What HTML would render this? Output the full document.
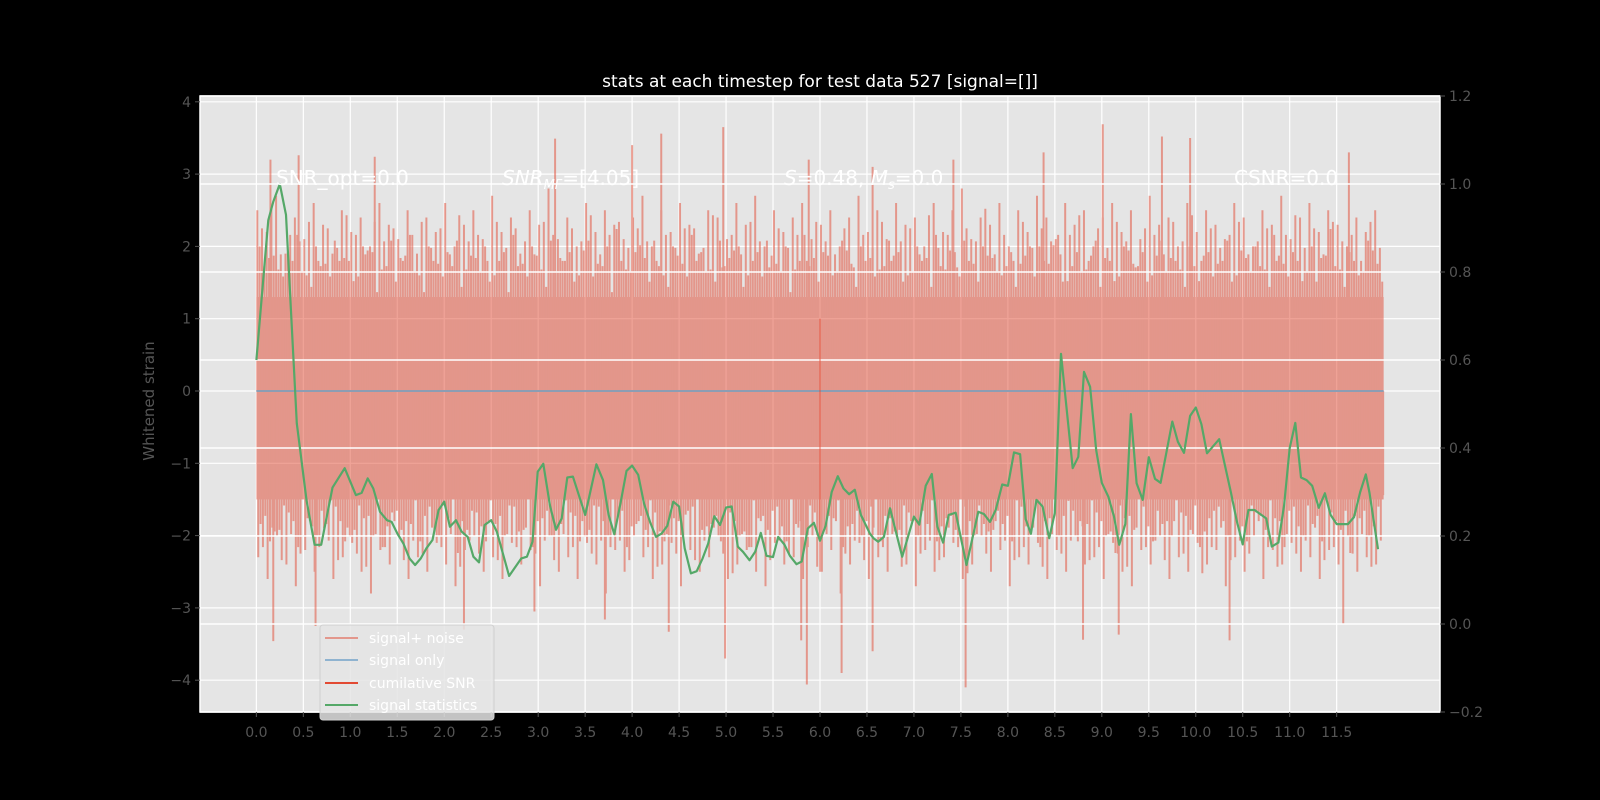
<!DOCTYPE html>
<html><head><meta charset="utf-8">
<style>
html,body{margin:0;padding:0;background:#000;}
svg{display:block;font-family:"DejaVu Sans","Liberation Sans",sans-serif;}
</style></head>
<body>
<svg id="chart" width="1600" height="800" viewBox="0 0 1600 800">
<rect x="0" y="0" width="1600" height="800" fill="#000"/>
<rect x="200" y="96" width="1240" height="616" fill="#e5e5e5"/>
<g id="gridL"></g>
<g id="noise" opacity="0.5"></g>
<g id="gridR"></g>
<g id="lines"></g>
<g id="axes"></g>
<text x="820" y="87" fill="#fff" font-size="17" text-anchor="middle">stats at each timestep for test data 527 [signal=[]]</text>
<text transform="translate(154,401) rotate(-90)" fill="#555" font-size="15" text-anchor="middle">Whitened strain</text>
<g fill="#fff" font-size="20">
<text x="276" y="185">SNR_opt=0.0</text>
<text x="502" y="185"><tspan font-style="italic">SNR</tspan><tspan font-style="italic" font-size="13" dy="4">MF</tspan><tspan dy="-4">=[4.05]</tspan></text>
<text x="784" y="185"><tspan font-style="italic">S</tspan>=0.48, <tspan font-style="italic">M</tspan><tspan font-style="italic" font-size="13" dy="4">s</tspan><tspan dy="-4">=0.0</tspan></text>
<text x="1234" y="185">CSNR=0.0</text>
</g>
<g id="legend">
<rect x="320" y="625" width="174" height="95" rx="3" fill="#e5e5e5" fill-opacity="0.85" stroke="#d0d0d0"/>
<g><line x1="325" y1="638" x2="358" y2="638" stroke="#e3978c" stroke-width="2"/><text x="369" y="643" fill="#fff" font-size="14">signal+ noise</text></g>
<g><line x1="325" y1="660" x2="358" y2="660" stroke="#8fb3d0" stroke-width="2"/><text x="369" y="665" fill="#fff" font-size="14">signal only</text></g>
<g><line x1="325" y1="683" x2="358" y2="683" stroke="#E24A33" stroke-width="2"/><text x="369" y="688" fill="#fff" font-size="14">cumilative SNR</text></g>
<g><line x1="325" y1="705" x2="358" y2="705" stroke="#55A868" stroke-width="2"/><text x="369" y="710" fill="#fff" font-size="14">signal statistics</text></g>
</g>
</svg>
<script>
const xTicks=[0,0.5,1,1.5,2,2.5,3,3.5,4,4.5,5,5.5,6,6.5,7,7.5,8,8.5,9,9.5,10,10.5,11,11.5];
const yTicksL=[-4,-3,-2,-1,0,1,2,3,4];
const yTicksR=[-0.2,0,0.2,0.4,0.6,0.8,1.0,1.2];
const statT=[0,0.127,0.18,0.25,0.315,0.43,0.535,0.62,0.69,0.81,0.94,1.06,1.12,1.185,1.245,1.316,1.39,1.44,1.5,1.565,1.63,1.69,1.75,1.81,1.875,1.94,2.0,2.06,2.125,2.185,2.25,2.31,2.37,2.43,2.5,2.56,2.69,2.82,2.88,2.94,2.995,3.055,3.125,3.19,3.25,3.31,3.37,3.5,3.62,3.69,3.75,3.81,3.88,3.94,4.0,4.065,4.126,4.19,4.254,4.315,4.374,4.438,4.5,4.56,4.626,4.687,4.75,4.81,4.875,4.935,5.0,5.06,5.125,5.18,5.25,5.31,5.37,5.43,5.5,5.555,5.62,5.68,5.75,5.805,5.87,5.935,6.0,6.06,6.125,6.19,6.25,6.31,6.37,6.435,6.53,6.57,6.62,6.68,6.745,6.875,7.0,7.057,7.125,7.19,7.25,7.31,7.37,7.445,7.56,7.685,7.745,7.81,7.87,7.94,8.0,8.065,8.13,8.19,8.245,8.305,8.37,8.44,8.5,8.565,8.69,8.75,8.81,8.875,8.94,9.0,9.07,9.13,9.185,9.25,9.31,9.37,9.435,9.5,9.566,9.626,9.75,9.81,9.875,9.94,10.0,10.06,10.12,10.25,10.31,10.375,10.435,10.5,10.56,10.625,10.75,10.81,10.88,10.94,11.0,11.06,11.12,11.18,11.24,11.31,11.375,11.435,11.5,11.62,11.685,11.75,11.81,11.85,11.94];
const statV=[0.60,0.918,0.96,1.0,0.93,0.456,0.28,0.18,0.18,0.31,0.354,0.293,0.298,0.331,0.308,0.255,0.236,0.232,0.206,0.183,0.149,0.134,0.149,0.172,0.191,0.259,0.278,0.221,0.236,0.21,0.198,0.153,0.14,0.225,0.236,0.21,0.109,0.149,0.153,0.187,0.346,0.364,0.27,0.214,0.24,0.333,0.335,0.248,0.363,0.327,0.248,0.204,0.278,0.348,0.36,0.339,0.274,0.232,0.198,0.206,0.223,0.278,0.267,0.172,0.115,0.12,0.149,0.183,0.245,0.225,0.265,0.267,0.176,0.164,0.145,0.164,0.207,0.155,0.152,0.198,0.181,0.155,0.136,0.142,0.217,0.23,0.189,0.223,0.30,0.336,0.308,0.295,0.305,0.248,0.206,0.195,0.187,0.198,0.263,0.153,0.244,0.226,0.314,0.341,0.221,0.185,0.248,0.253,0.134,0.255,0.25,0.232,0.259,0.317,0.314,0.39,0.386,0.238,0.205,0.282,0.267,0.195,0.252,0.614,0.354,0.38,0.573,0.539,0.395,0.321,0.289,0.244,0.18,0.227,0.477,0.32,0.282,0.379,0.33,0.321,0.46,0.414,0.389,0.473,0.492,0.454,0.388,0.42,0.361,0.298,0.236,0.181,0.259,0.259,0.24,0.176,0.185,0.27,0.40,0.457,0.333,0.327,0.314,0.264,0.297,0.248,0.227,0.227,0.243,0.30,0.34,0.298,0.17];
const coreHi=[1.3];
const coreLo=[-1.5];
const fringeUp=[2.5,2.2,2.7,1.9,2.4,2.1,2.6,2.3,1.9,2.5,2.2,2.4,2.0,2.6,2.3,2.1,2.5,1.9,2.4,2.2,2.6,2.0,2.3,2.5,2.1,2.7,2.2,2.4,1.9,2.5,2.3,2.8,2.1,2.4,2.0,2.6,2.2,2.5,2.3,2.1,2.4,2.7,2.0,2.5,2.2,2.6,2.3,1.9,2.5,2.4,2.1,2.6,2.3,2.7,2.0,2.5,2.2,2.4,2.6,2.1,2.3,2.5,2.0,2.4,2.7,2.2,2.5,2.1,2.6,2.3,2.4,2.0,2.6,2.2,2.5,2.8,2.1,2.4,2.3,2.6,2.0,2.5,2.2,2.7,2.4,2.1,2.6,2.3,2.5,2.0,2.4,2.6,2.2,2.5,2.1,2.7,2.3,2.4,2.0,2.6,2.2,2.5,2.3,2.1,2.6,2.4,2.0,2.5,2.3,2.7,2.1,2.4,2.6,2.2,2.5,2.3,2.0,2.4,2.2,2.5];
const fringeDn=[-2.3,-2.6,-2.0,-2.4,-2.7,-2.2,-2.5,-1.9,-2.6,-2.3,-2.1,-2.5,-2.8,-2.2,-2.4,-2.0,-2.6,-2.3,-2.5,-2.1,-2.4,-2.7,-2.2,-2.0,-2.5,-2.3,-2.6,-2.1,-2.4,-2.2,-2.7,-2.0,-2.5,-2.3,-2.6,-2.1,-2.4,-2.8,-2.2,-2.5,-2.0,-2.3,-2.6,-2.4,-2.1,-2.7,-2.2,-2.5,-2.3,-2.0,-2.6,-2.4,-2.2,-2.5,-2.7,-2.1,-2.4,-2.3,-2.6,-2.0,-2.5,-2.2,-2.8,-2.4,-2.1,-2.6,-2.3,-2.5,-2.0,-2.4,-2.7,-2.2,-2.5,-2.3,-2.1,-2.6,-2.4,-2.0,-2.5,-2.2,-2.7,-2.3,-2.4,-2.1,-2.6,-2.2,-2.5,-2.0,-2.4,-2.3,-2.6,-2.1,-2.5,-2.7,-2.2,-2.4,-2.0,-2.6,-2.3,-2.5,-2.1,-2.4,-2.2,-2.7,-2.3,-2.5,-2.0,-2.6,-2.2,-2.4,-2.1,-2.5,-2.3,-2.6,-2.2,-2.4,-2.0,-2.5,-2.3,-2.4];
const spikeT=[0.15,0.45,1.26,3.18,4.0,4.31,4.97,5.88,6.56,7.42,8.38,9.01,9.64,9.94,11.63,0.18,0.63,2.21,2.96,3.71,4.39,4.99,5.8,5.86,6.23,6.56,7.55,8.8,9.18,10.36,11.57];
const spikeV=[3.2,3.26,3.24,3.49,3.4,3.56,3.65,3.2,3.1,3.2,3.3,3.69,3.52,3.5,3.3,-3.46,-3.25,-3.3,-3.05,-3.16,-3.33,-3.7,-3.45,-4.06,-3.9,-3.6,-4.1,-3.44,-3.37,-3.45,-3.22];
const snrT=[6.0];
const snrRange=[1.0,-2.5];

const NS='http://www.w3.org/2000/svg';
const X0=200,X1=1440,Y0=96,Y1=712;
const xMin=-0.6,xMax=12.6;
function xs(t){return X0+(t-xMin)/(xMax-xMin)*(X1-X0);}
function yL(v){return 391-v*72.3;}
function yR(v){return 624-v*440;}
function mk(tag,attrs,parent){const e=document.createElementNS(NS,tag);for(const k in attrs)e.setAttribute(k,attrs[k]);parent.appendChild(e);return e;}

const gL=document.getElementById('gridL');
xTicks.forEach(t=>{const l=mk('line',{x1:xs(t),x2:xs(t),y1:Y0,y2:Y1,stroke:'#fff','stroke-width':1.2},gL);

});
yTicksL.forEach(v=>{const l=mk('line',{x1:X0,x2:X1,y1:yL(v),y2:yL(v),stroke:'#fff','stroke-width':1.2},gL);

});

const gN=document.getElementById('noise');
const c=mk('rect',{x:xs(0),y:yL(coreHi[0]),width:xs(12)-xs(0),height:yL(coreLo[0])-yL(coreHi[0]),fill:'#E24A33'},gN);


const fac=[1,0.8,0.9,0.72];
fringeUp.forEach((v,i)=>{for(let k=0;k<4;k++){const t=i*0.1+0.01+k*0.025;const u=fringeUp[(i+k*37)%fringeUp.length];const val=(k==0?v:u)*fac[k];
const l=mk('line',{x1:xs(t),x2:xs(t),y1:yL(0),y2:yL(val),stroke:'#E24A33','stroke-width':2},gN);

}});
fringeDn.forEach((v,i)=>{for(let k=0;k<4;k++){const t=i*0.1+0.02+k*0.025;const u=fringeDn[(i+k*41)%fringeDn.length];const val=(k==0?v:u)*fac[k];
const l=mk('line',{x1:xs(t),x2:xs(t),y1:yL(0),y2:yL(val),stroke:'#E24A33','stroke-width':2},gN);

}});
spikeT.forEach((t,i)=>{const v=spikeV[i];const l=mk('line',{x1:xs(t),x2:xs(t),y1:yL(0),y2:yL(v),stroke:'#E24A33','stroke-width':2},gN);

});

const gR=document.getElementById('gridR');
yTicksR.forEach(v=>{const l=mk('line',{x1:X0,x2:X1,y1:yR(v),y2:yR(v),stroke:'#fff','stroke-width':1.5},gR);

});

const gS=document.getElementById('lines');
const sig=mk('line',{x1:xs(0),x2:xs(12),y1:yL(0),y2:yL(0),stroke:'#8c9db3','stroke-width':2},gS);


const snr=mk('line',{x1:xs(snrT[0]),x2:xs(snrT[0]),y1:yL(snrRange[0]),y2:yL(snrRange[1]),stroke:'#E24A33','stroke-width':1.2,'stroke-opacity':0.7},gS);


const pts=statT.map((t,i)=>xs(t).toFixed(1)+','+yR(statV[i]).toFixed(1)).join(' ');
const st=mk('polyline',{points:pts,fill:'none',stroke:'#55A868','stroke-width':2.2,'stroke-linejoin':'round'},gS);



const gA=document.getElementById('axes');
const fr=mk('rect',{x:X0,y:Y0,width:X1-X0,height:Y1-Y0,fill:'none',stroke:'#fff','stroke-width':1.5},gA);


xTicks.forEach(t=>{mk('line',{x1:xs(t),x2:xs(t),y1:Y1,y2:Y1+5,stroke:'#555'},gA);
const tx=mk('text',{x:xs(t),y:Y1+25,fill:'#555','font-size':14,'text-anchor':'middle'},gA);
tx.textContent=t.toFixed(1);

});
yTicksL.forEach(v=>{mk('line',{x1:X0-5,x2:X0,y1:yL(v),y2:yL(v),stroke:'#555'},gA);
const tx=mk('text',{x:X0-9,y:yL(v)+5,fill:'#555','font-size':14,'text-anchor':'end'},gA);
tx.textContent=v<0?'\u2212'+Math.abs(v):String(v);

});
yTicksR.forEach(v=>{mk('line',{x1:X1,x2:X1+5,y1:yR(v),y2:yR(v),stroke:'#555'},gA);
const tx=mk('text',{x:X1+9,y:yR(v)+5,fill:'#555','font-size':14,'text-anchor':'start'},gA);
tx.textContent=v<0?'\u2212'+Math.abs(v).toFixed(1):v.toFixed(1);

});
</script>
</body></html>
